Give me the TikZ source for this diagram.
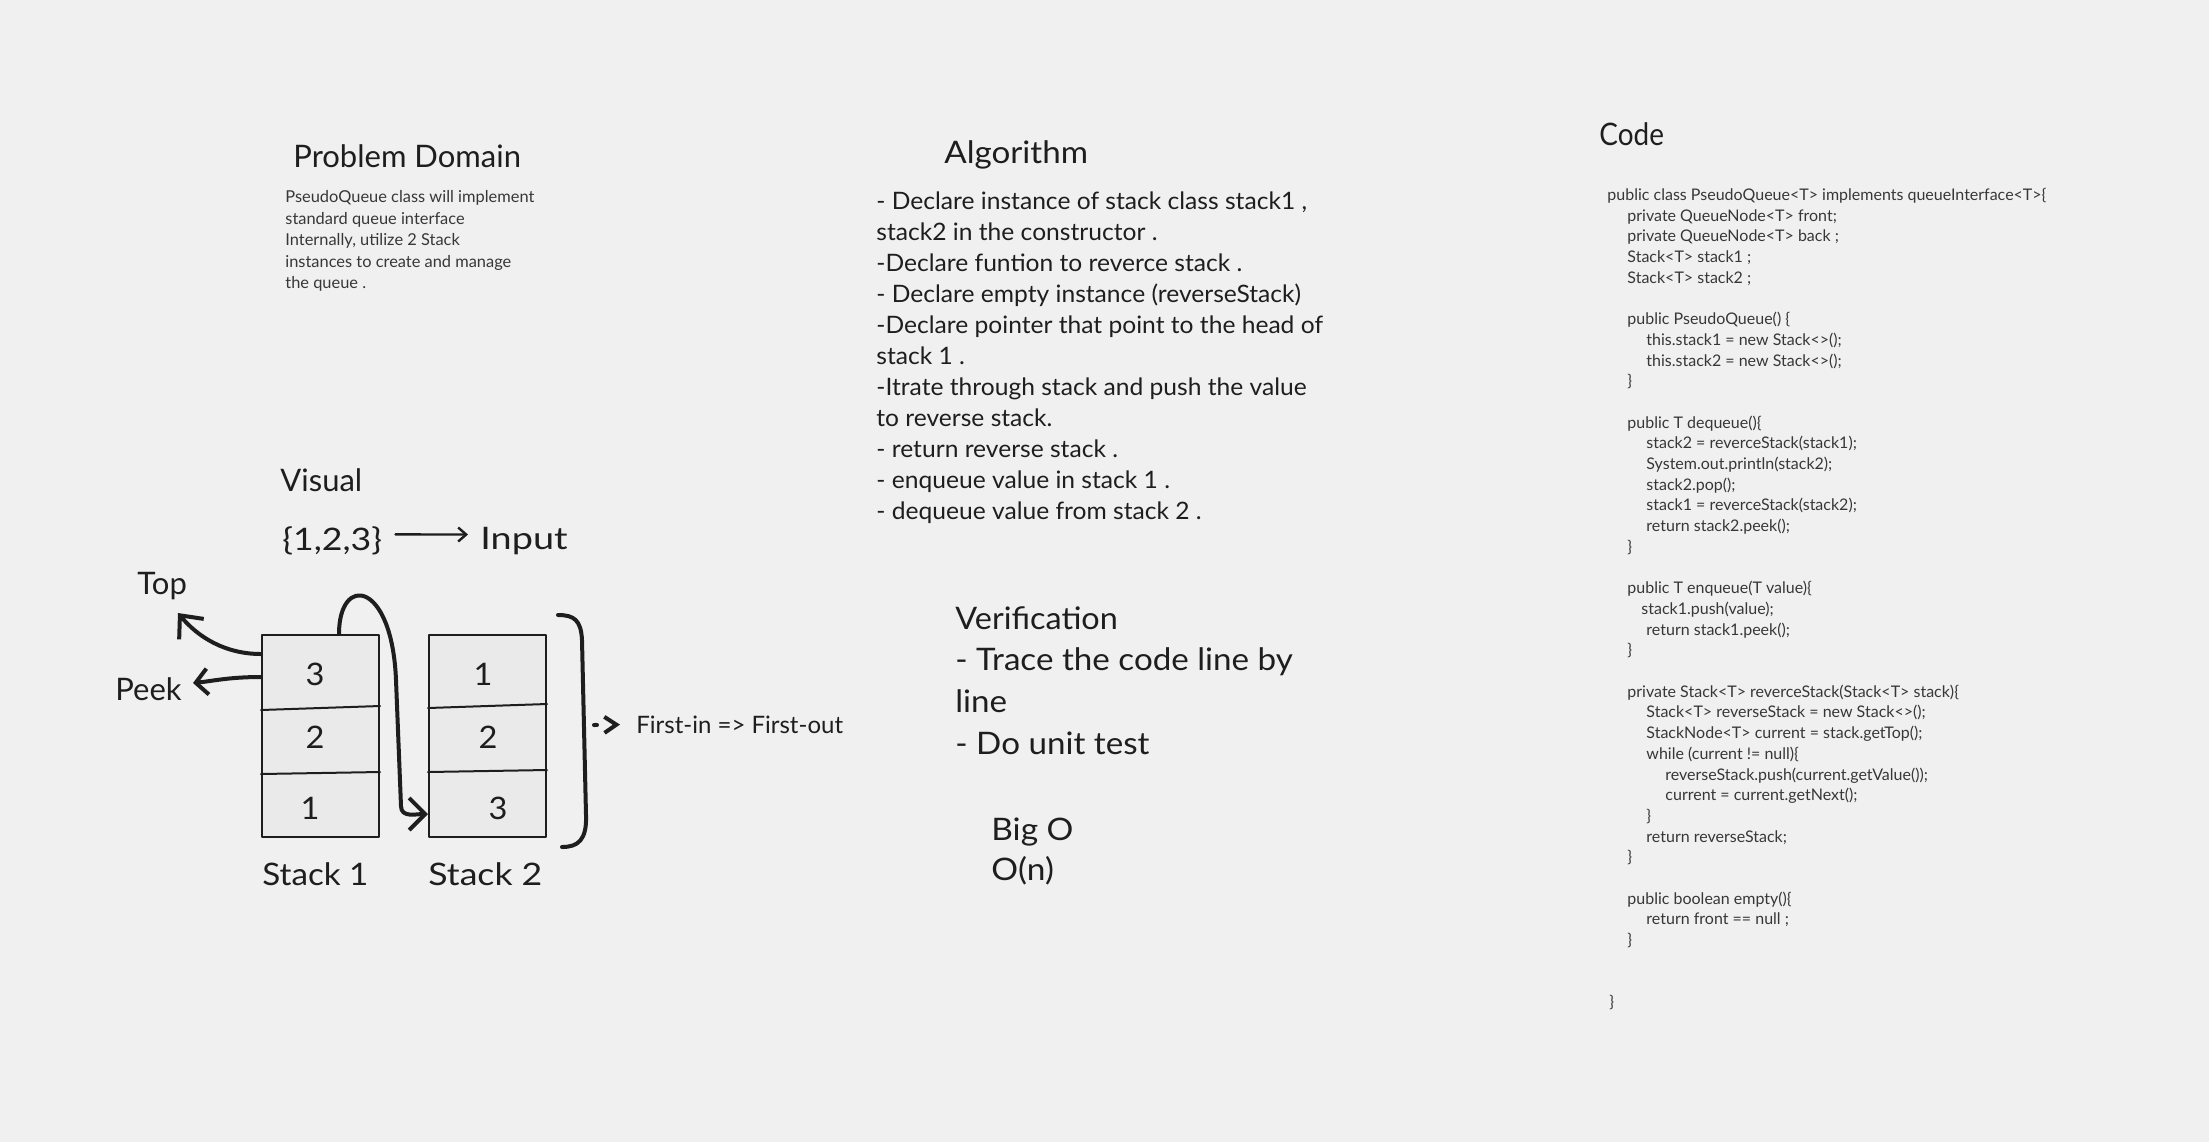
\documentclass[tikz,border=0pt]{standalone}
\usepackage{fontspec}
\setmainfont{Lato}
\usetikzlibrary{arrows.meta}
\definecolor{paper}{RGB}{240,240,240}
\definecolor{ink}{RGB}{30,30,30}
\definecolor{inkgray}{RGB}{55,55,55}
\definecolor{cellfill}{RGB}{234,234,234}
\newcommand{\firstline}{\rule{0pt}{1em}}
\newcommand{\codeind}[1]{\hspace*{#1pt}}
\newcommand{\handfont}[3]{\fontsize{#1}{#2}\selectfont\addfontfeature{FakeStretch=#3}}
\begin{document}
\begin{tikzpicture}[x=0.5pt, y=-0.5pt, line join=round, line cap=round,
	head/.style={anchor=base west, inner sep=0pt, text=ink, font=\handfont{15.5}{21}{#1}},
	head/.default=1,
	block/.style={anchor=north west, inner sep=0pt, align=left, text=inkgray},
	stackbox/.style={draw=ink, line width=1pt, fill=cellfill, minimum width=58.5pt, minimum height=101pt, inner sep=0pt},
	digit/.style={inner sep=0pt, text=ink, font=\handfont{15.5}{18}{1.05}},
	hand/.style={draw=ink, line width=2pt}]
	\useasboundingbox[fill=paper] (0,0) rectangle (2209,1142);
	\path
	(178,613) coordinate (toptip)
	(193,683) coordinate (peektip)
	(396,680) coordinate (bendA)
	(401,806) coordinate (bendB)
	(594,725) coordinate (brk)
	;
	% problem domain
	\node[head] (pdtitle) at (293,167) {Problem Domain};
	\node[block, font=\handfont{8.2}{10.75}{1}] (pdtext) at (285,186) {\firstline PseudoQueue class will implement\\
		standard queue interface\\
		Internally, utilize 2 Stack\\
		instances to create and manage\\
		the queue .};
	% algorithm
	\node[head=1.07] (algtitle) at (944,163) {Algorithm};
	\node[block, text=ink, font=\handfont{12}{15.5}{1.025}] (algtext) at (876,185) {\firstline - Declare instance of stack class stack1 ,\\
		stack2 in the constructor .\\
		-Declare funtion to reverce stack .\\
		- Declare empty instance (reverseStack)\\
		-Declare pointer that point to the head of\\
		stack 1 .\\
		-Itrate through stack and push the value\\
		to reverse stack.\\
		- return reverse stack .\\
		- enqueue value in stack 1 .\\
		- dequeue value from stack 2 .};
	% visual
	\node[head] (visual) at (280,491) {Visual};
	\node[head=1.15] (set) at (282,550) {\{1,2,3\}};
	\node[head=1.22] (inp) at (480,549) {Input};
	\draw[line width=1.2pt, draw=ink, -{Straight Barb[length=4pt,width=7pt]}, shorten <=6.5pt, shorten >=6pt] ([yshift=3pt]set.east) -- ([yshift=3pt]inp.west);
	\node[head] (top) at (137,594) {Top};
	\node[head] (peek) at (115,700) {Peek};
	\node[stackbox] (stackA) at (320.5,736) {};
	\node[stackbox] (stackB) at (487.5,736) {};
	\foreach \s/\a/\b in {stackA/37/69.5, stackB/36/68.5}
	\draw[draw=ink, line width=1pt] ([yshift=-\a pt-1pt]\s.north west) -- ([yshift=-\a pt+1pt]\s.north east)
	([yshift=-\b pt-0.5pt]\s.north west) -- ([yshift=-\b pt+0.5pt]\s.north east);
	\foreach \v/\x/\y/\n in {3/315/674/a3, 2/315/737/a2, 1/310/808/a1, 1/483/674/b1, 2/488/737/b2, 3/498/808/b3}
	\node[digit] (\n) at (\x,\y) {\v};
	\node[head=1.07] (labA) at (262,885) {Stack 1};
	\node[head=1.15] (labB) at (428,885) {Stack 2};
	\draw[hand, -{Straight Barb[length=9pt,width=16pt]}] ([yshift=-10pt]stackA.north west) .. controls +(-18pt,0pt) and +(10pt,-12pt) .. (toptip);
	\draw[hand, -{Straight Barb[length=6pt,width=13pt]}] ([yshift=-21.5pt]stackA.north west) .. controls +(-16pt,0pt) and +(10pt,1pt) .. (peektip);
	\draw[hand, -{Straight Barb[length=8pt,width=16pt]}] ([xshift=9.25pt]stackA.north) .. controls +(0pt,30pt) and +(-2pt,50pt) .. (bendA) -- (bendB) .. controls +(0pt,-6pt) and +(-6pt,0pt) .. ([yshift=12pt]stackB.south west);
	% bracket
	\draw[hand] (558,615) .. controls (574,615) and (581,620) .. (582,640) -- (586,815) .. controls (587,840) and (578,847) .. (562,847);
	\node[head, font=\handfont{12}{14}{1}] (fifo) at (636,733) {First-in => First-out};
	\draw[hand, dash pattern=on 1.5pt off 10pt, -{Straight Barb[length=6pt,width=8pt]}, shorten >=8pt] (brk) -- (fifo.west);
	% verification
	\node[head=1.045] (vertitle) at (955,629) {Verification};
	\node[block, text=ink, font=\handfont{15.5}{21}{1.07}] (vertext) at (955,639) {\firstline - Trace the code line by\\
		line\\
		- Do unit test};
	\node[block, text=ink, font=\handfont{15.5}{20}{1.08}] (bigo) at (991,809) {\firstline Big O\\
		O(n)};
	% code
	\node[head=0.9] (codetitle) at (1599,145) {Code};
	\node[block, font=\fontsize{8}{10.35}\selectfont] (code) at (1607,184) {\firstline public class PseudoQueue<T> implements queueInterface<T>\{\\
		\codeind{10}private QueueNode<T> front;\\
		\codeind{10}private QueueNode<T> back ;\\
		\codeind{10}Stack<T> stack1 ;\\
		\codeind{10}Stack<T> stack2 ;\\[10.35pt]
		\codeind{10}public PseudoQueue() \{\\
		\codeind{19.5}this.stack1 = new Stack<>();\\
		\codeind{19.5}this.stack2 = new Stack<>();\\
		\codeind{10}\}\\[10.35pt]
		\codeind{10}public T dequeue()\{\\
		\codeind{19.5}stack2 = reverceStack(stack1);\\
		\codeind{19.5}System.out.println(stack2);\\
		\codeind{19.5}stack2.pop();\\
		\codeind{19.5}stack1 = reverceStack(stack2);\\
		\codeind{19.5}return stack2.peek();\\
		\codeind{10}\}\\[10.35pt]
		\codeind{10}public T enqueue(T value)\{\\
		\codeind{17}stack1.push(value);\\
		\codeind{19.5}return stack1.peek();\\
		\codeind{10}\}\\[10.35pt]
		\codeind{10}private Stack<T> reverceStack(Stack<T> stack)\{\\
		\codeind{19.5}Stack<T> reverseStack = new Stack<>();\\
		\codeind{19.5}StackNode<T> current = stack.getTop();\\
		\codeind{19.5}while (current != null)\{\\
		\codeind{29}reverseStack.push(current.getValue());\\
		\codeind{29}current = current.getNext();\\
		\codeind{19.5}\}\\
		\codeind{19.5}return reverseStack;\\
		\codeind{10}\}\\[10.35pt]
		\codeind{10}public boolean empty()\{\\
		\codeind{19.5}return front == null ;\\
		\codeind{10}\}\\[20.7pt]
		\codeind{1}\}};
\end{tikzpicture}
\end{document}
